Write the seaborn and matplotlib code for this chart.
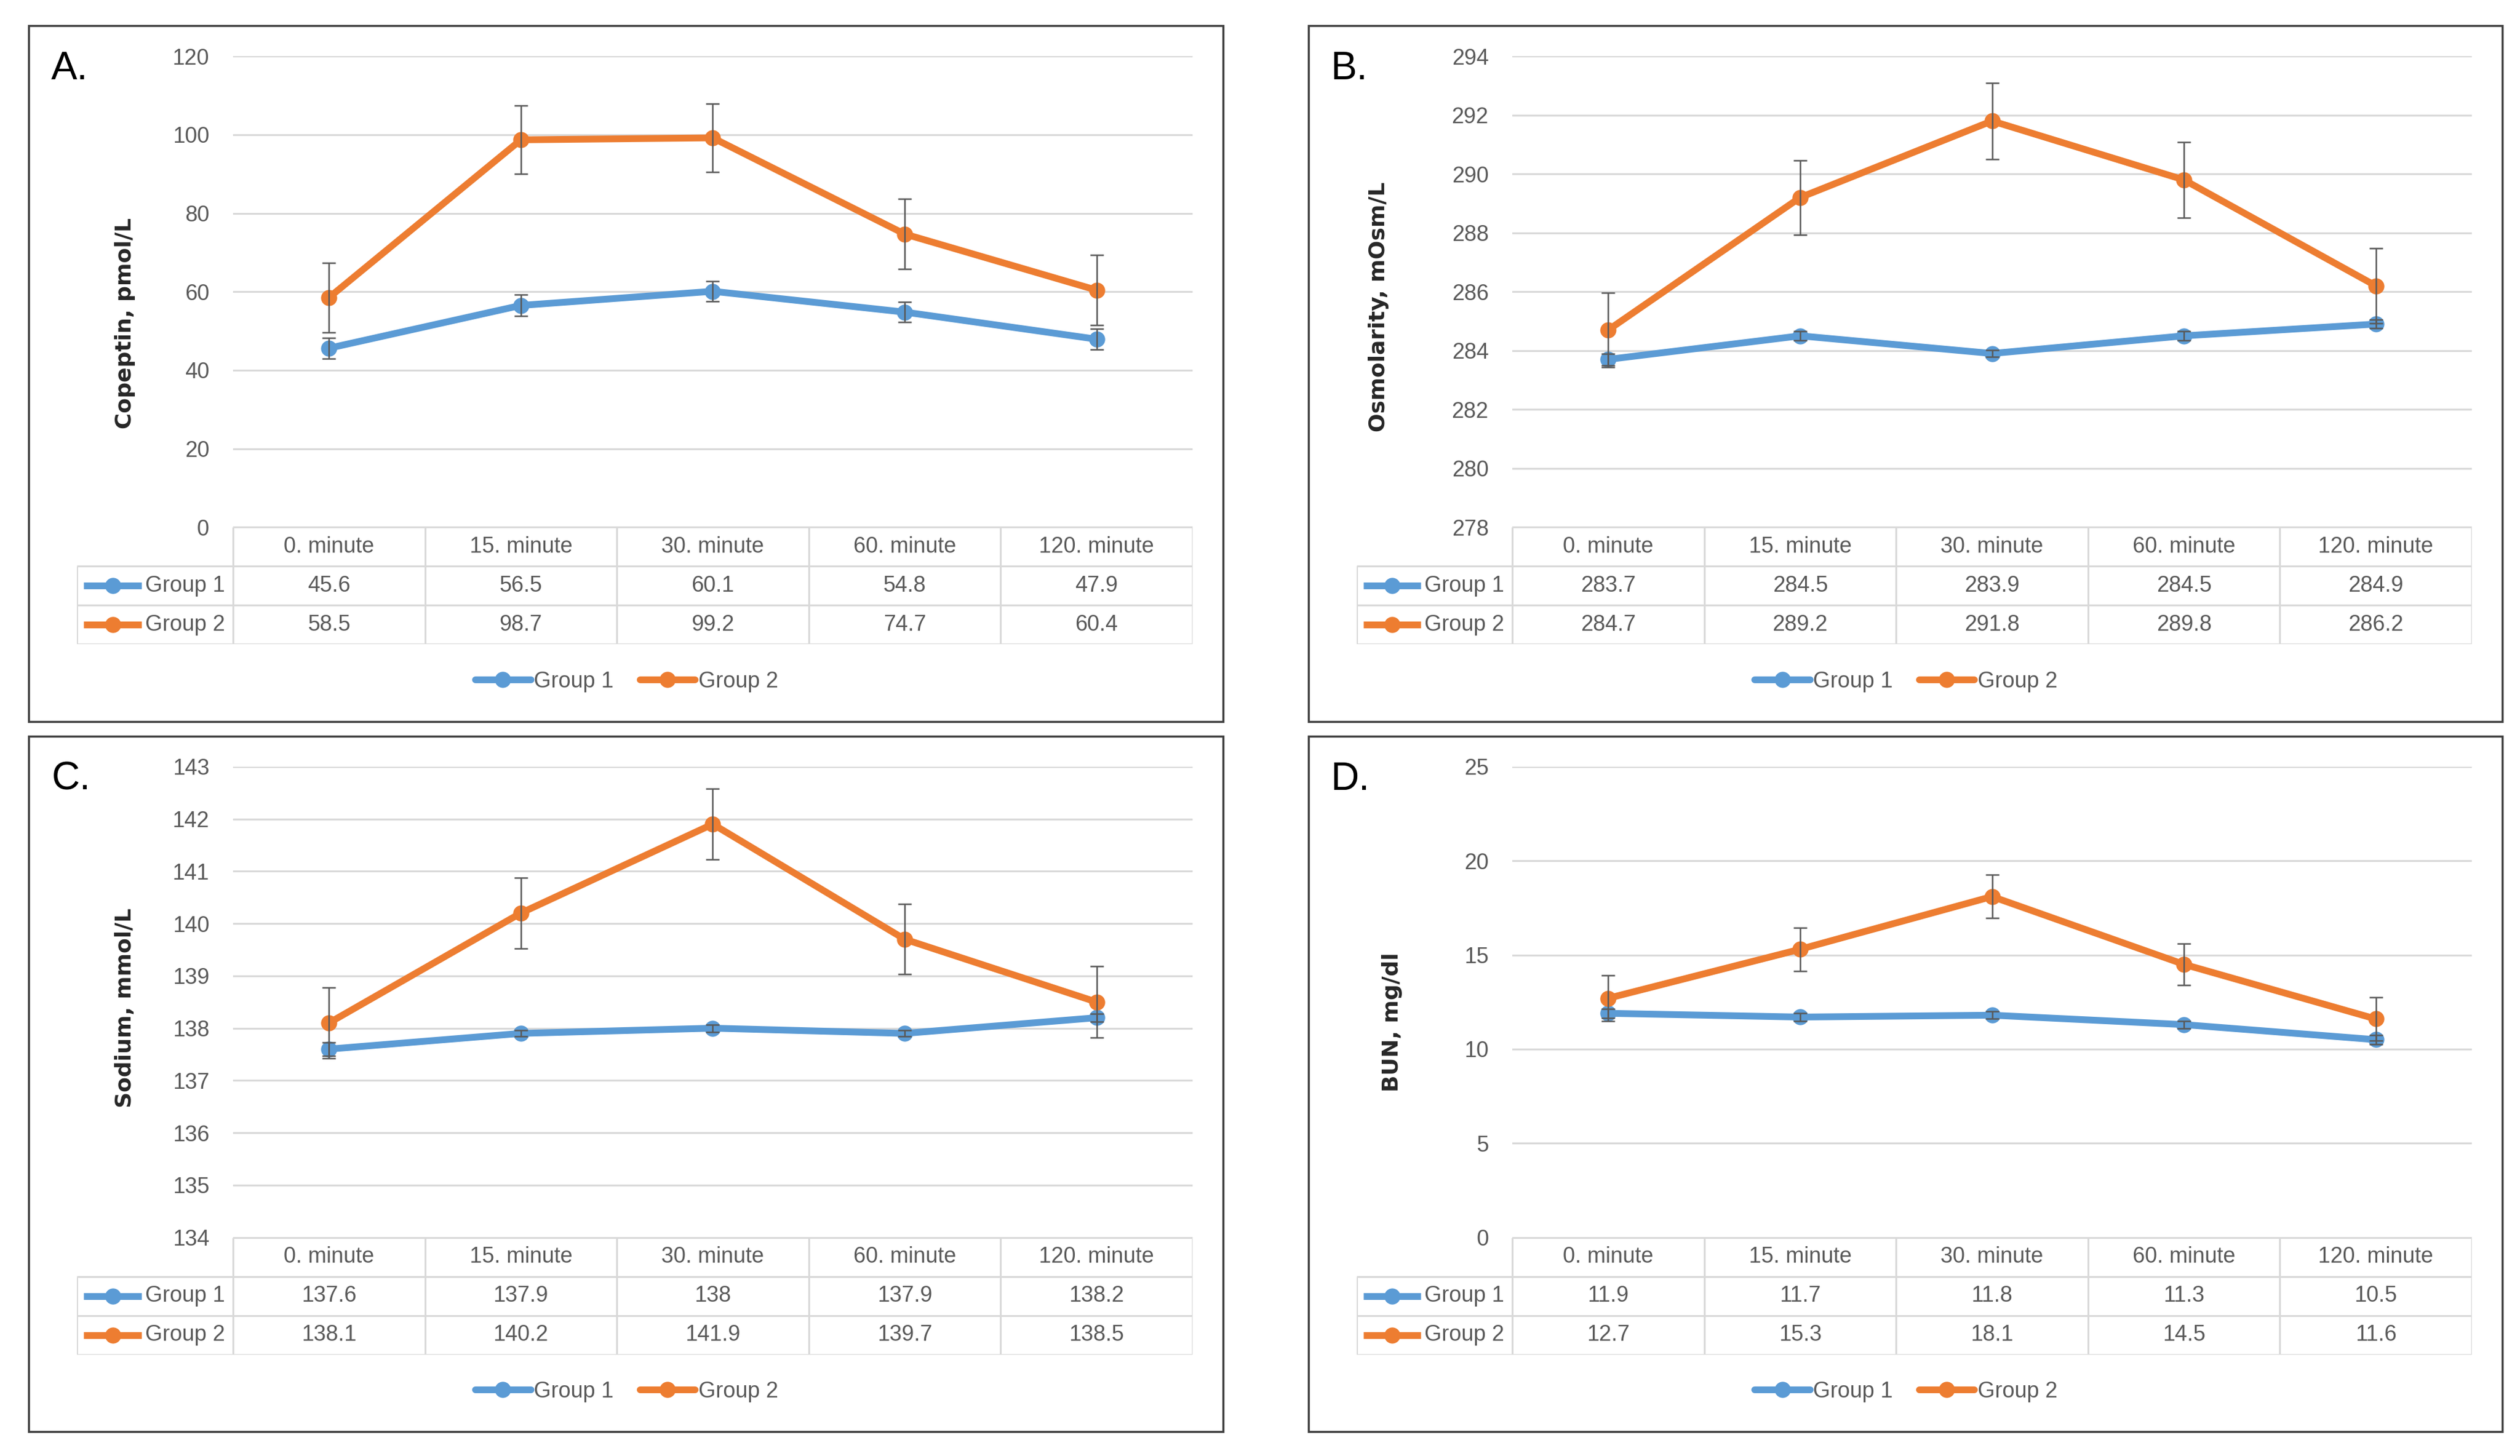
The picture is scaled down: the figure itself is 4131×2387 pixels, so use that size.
import numpy as np
import pandas as pd
import matplotlib
matplotlib.use("Agg")
import matplotlib.pyplot as plt
import seaborn as sns
from matplotlib.patches import Rectangle
from matplotlib.lines import Line2D

# ---------------- data ----------------
times = ["0. minute", "15. minute", "30. minute", "60. minute", "120. minute"]
groups = ["Group 1", "Group 2"]

copeptin_g1 = [45.6, 56.5, 60.1, 54.8, 47.9]
copeptin_g2 = [58.5, 98.7, 99.2, 74.7, 60.4]
copeptin_err_g1 = [2.6, 2.7, 2.6, 2.55, 2.7]
copeptin_err_g2 = [8.9, 8.7, 8.7, 8.9, 8.9]

osm_g1 = [283.7, 284.5, 283.9, 284.5, 284.9]
osm_g2 = [284.7, 289.2, 291.8, 289.8, 286.2]
osm_err_g1 = [0.2, 0.15, 0.12, 0.15, 0.15]
osm_err_g2 = [1.27, 1.27, 1.29, 1.28, 1.27]

sodium_g1 = [137.6, 137.9, 138.0, 137.9, 138.2]
sodium_g2 = [138.1, 140.2, 141.9, 139.7, 138.5]
sodium_err_g1 = [0.13, 0.06, 0.07, 0.06, 0.08]
sodium_err_g2 = [0.68, 0.68, 0.68, 0.67, 0.68]

bun_g1 = [11.9, 11.7, 11.8, 11.3, 10.5]
bun_g2 = [12.7, 15.3, 18.1, 14.5, 11.6]
bun_err_g1 = [0.25, 0.2, 0.2, 0.2, 0.25]
bun_err_g2 = [1.2, 1.15, 1.15, 1.1, 1.15]

panel_letters = ["A.", "B.", "C.", "D."]
y_labels = ["Copeptin, pmol/L", "Osmolarity, mOsm/L", "Sodium, mmol/L", "BUN, mg/dl"]
y_ticks = [list(range(0, 121, 20)), list(range(278, 295, 2)),
           list(range(134, 144, 1)), list(range(0, 26, 5))]

series = [
    (copeptin_g1, copeptin_g2, copeptin_err_g1, copeptin_err_g2),
    (osm_g1, osm_g2, osm_err_g1, osm_err_g2),
    (sodium_g1, sodium_g2, sodium_err_g1, sodium_err_g2),
    (bun_g1, bun_g2, bun_err_g1, bun_err_g2),
]

# ---------------- style ----------------
BLUE = "#5B9BD5"
ORANGE = "#ED7D31"
GRID = "#D9D9D9"
TXT = "#595959"
ERR = "#595959"

sns.set_theme(style="white")
plt.rcParams["font.family"] = ["Liberation Sans Narrow", "Liberation Sans", "DejaVu Sans"]

W, H = 4131, 2387
REF_W, REF_H = 1568.0, 906.0
fig = plt.figure(figsize=(W / 100, H / 100), dpi=100)


def fx(px):
    return px / REF_W


def fy(py):
    return 1 - py / REF_H


offsets = [(0, 0), (796, 0), (0, 442), (796, 442)]
ylabel_x = [78, 858, 78, 866]
ylabel_y = [201, 191, 185, 194]

TICK_FS = 26
LW_LINE = 8.0
MS = 19

for k in range(4):
    ox, oy = offsets[k]
    g1, g2, e1, e2 = series[k]

    # panel border
    fig.patches.append(Rectangle((fx(18 + ox), fy(449 + oy)), fx(743), 433 / REF_H,
                                 transform=fig.transFigure, fill=False,
                                 edgecolor="#404040", linewidth=2.5, zorder=0))

    # main axes
    left, right, top, bottom = 145 + ox, 742 + ox, 35 + oy, 328 + oy
    ax = fig.add_axes([fx(left), fy(bottom), fx(right - left), (bottom - top) / REF_H])
    df = pd.DataFrame({
        "x": list(range(5)) * 2,
        "value": list(g1) + list(g2),
        "group": [groups[0]] * 5 + [groups[1]] * 5,
    })
    sns.lineplot(data=df, x="x", y="value", hue="group", palette=[BLUE, ORANGE],
                 marker="o", markersize=MS, markeredgewidth=0, linewidth=LW_LINE,
                 legend=False, ax=ax, zorder=3)
    ax.errorbar(range(5), g1, yerr=e1, fmt="none", ecolor=ERR, elinewidth=1.8,
                capsize=8, capthick=1.8, zorder=5)
    ax.errorbar(range(5), g2, yerr=e2, fmt="none", ecolor=ERR, elinewidth=1.8,
                capsize=8, capthick=1.8, zorder=5)
    ax.set_xlim(-0.5, 4.5)
    ax.set_ylim(y_ticks[k][0], y_ticks[k][-1])
    ax.set_yticks(y_ticks[k])
    ax.set_xticks([])
    ax.set_xlabel("")
    ax.set_ylabel("")
    ax.yaxis.grid(True, color=GRID, linewidth=2.2, zorder=0)
    ax.xaxis.grid(False)
    ax.set_axisbelow(True)
    for s in ax.spines.values():
        s.set_visible(False)
    ax.tick_params(axis="y", length=0, pad=28, labelsize=TICK_FS, labelcolor=TXT)
    ax.patch.set_alpha(0)

    # y label and panel letter
    fig.text(fx(ylabel_x[k]), fy(ylabel_y[k] + oy), y_labels[k], rotation=90,
             ha="center", va="center", fontsize=26, fontweight="bold",
             family="DejaVu Sans", color="#262626")
    fig.text(fx(32 + ox), fy(43 + oy), panel_letters[k], ha="left", va="center",
             fontsize=46, family=["Liberation Sans", "DejaVu Sans"], color="black")

    # data table
    cell = (right - left) / 5.0
    lw_col = (145 - 48) / cell
    tleft = 48 + ox
    tax = fig.add_axes([fx(tleft), fy(401 + oy), fx(right - tleft), (401 - 328) / REF_H])
    tax.set_xlim(-0.5 - lw_col, 4.5)
    tax.set_ylim(3, 0)
    tax.axis("off")
    tl = dict(color=GRID, linewidth=2.2, solid_capstyle="butt")
    tax.plot([-0.5, 4.5], [0, 0], **tl)
    for yy in (1, 2, 3):
        tax.plot([-0.5 - lw_col, 4.5], [yy, yy], **tl)
    for i in range(6):
        tax.plot([-0.5 + i, -0.5 + i], [0, 3], **tl)
    tax.plot([-0.5 - lw_col, -0.5 - lw_col], [1, 3], **tl)
    for i, t in enumerate(times):
        tax.text(i, 0.5, t, ha="center", va="center", fontsize=TICK_FS, color=TXT)
    for r, (vals, col, name) in enumerate([(g1, BLUE, groups[0]), (g2, ORANGE, groups[1])]):
        yy = 1.5 + r
        for i, v in enumerate(vals):
            tax.text(i, yy, f"{v:g}", ha="center", va="center", fontsize=TICK_FS, color=TXT)
        x0 = -0.5 - lw_col + 0.035
        x1 = -0.5 - lw_col + 0.335
        tax.plot([x0, x1], [yy, yy], color=col, linewidth=LW_LINE, solid_capstyle="butt")
        tax.plot([(x0 + x1) / 2], [yy], marker="o", color=col, markersize=MS,
                 markeredgewidth=0)
        tax.text(-0.5 - lw_col + 0.355, yy, name, ha="left", va="center",
                 fontsize=TICK_FS, color=TXT)

    # legend
    handles = [Line2D([], [], color=BLUE, linewidth=LW_LINE, marker="o", markersize=MS,
                      markeredgewidth=0),
               Line2D([], [], color=ORANGE, linewidth=LW_LINE, marker="o", markersize=MS,
                      markeredgewidth=0)]
    leg = fig.legend(handles, groups, loc="center", ncol=2, frameon=False,
                     bbox_to_anchor=(fx(390 + ox), fy(424 + oy)),
                     fontsize=TICK_FS, handlelength=2.5, handletextpad=0.15,
                     columnspacing=1.2, borderaxespad=0)
    for t in leg.get_texts():
        t.set_color(TXT)

fig.savefig("out.png", dpi=100, facecolor="white")
